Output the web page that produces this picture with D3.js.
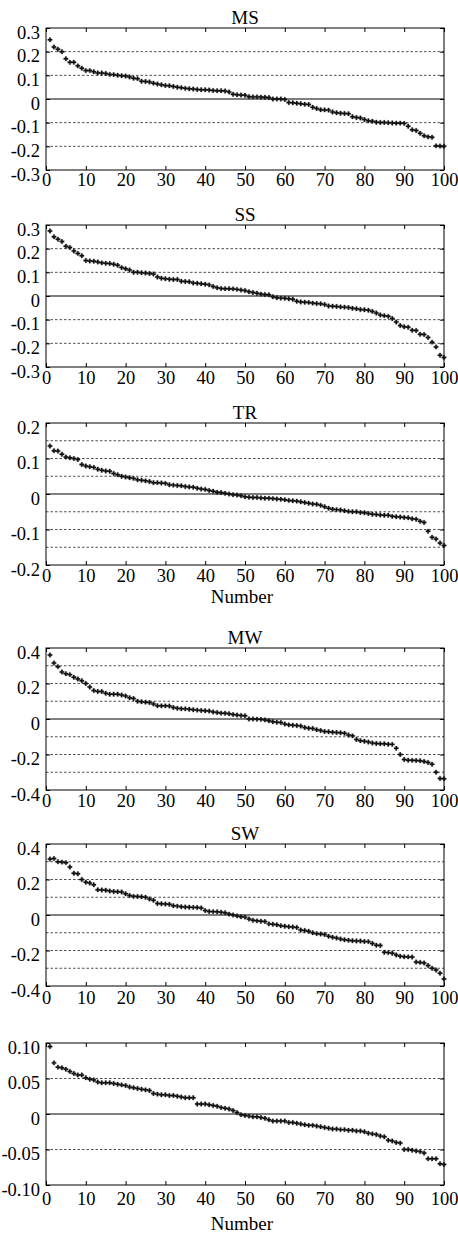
<!DOCTYPE html>
<meta charset="utf-8">
<style>
body { margin: 0; background: #fff; }
text { font-family: "Liberation Serif", "Times New Roman", serif; fill: #000; }
.grid line { stroke: #222; stroke-width: 0.8; stroke-dasharray: 2.5,2; }
.zero { stroke: #000; stroke-width: 1.2; }
.box { fill: none; stroke: #000; stroke-width: 1; }
.dot { fill: #111; stroke: #111; stroke-width: 0.3; }
</style>
<svg width="458" height="1234"></svg>
<script src="https://cdn.jsdelivr.net/npm/d3@7"></script>
<script>

var titles = ["MS", "SS", "TR", "MW", "SW", ""];

var ms = [0.25,0.22,0.21,0.20,0.17,0.155,0.155,0.14,0.13,0.12,0.12,0.115,0.11,0.11,0.108,0.104,0.103,0.1,0.098,0.097,
  0.093,0.088,0.086,0.075,0.074,0.072,0.067,0.063,0.06,0.057,0.056,0.053,0.05,0.048,0.045,0.043,0.042,0.04,0.039,0.039,
  0.038,0.036,0.035,0.035,0.034,0.03,0.02,0.018,0.017,0.016,0.01,0.009,0.009,0.008,0.007,0.006,0,0,0,-0.002,
  -0.015,-0.016,-0.018,-0.02,-0.022,-0.023,-0.035,-0.04,-0.045,-0.046,-0.047,-0.055,-0.058,-0.06,-0.061,-0.062,-0.075,-0.078,-0.08,-0.087,
  -0.092,-0.094,-0.098,-0.099,-0.099,-0.1,-0.101,-0.102,-0.102,-0.103,-0.115,-0.13,-0.133,-0.145,-0.155,-0.16,-0.162,-0.198,-0.199,-0.2];

var ss = [0.275,0.25,0.24,0.23,0.21,0.205,0.19,0.18,0.17,0.15,0.148,0.147,0.144,0.14,0.138,0.137,0.134,0.13,0.12,0.115,
  0.11,0.1,0.1,0.098,0.097,0.095,0.093,0.08,0.075,0.073,0.071,0.07,0.07,0.062,0.061,0.06,0.055,0.054,0.052,0.05,
  0.047,0.04,0.035,0.032,0.031,0.031,0.03,0.028,0.025,0.023,0.018,0.015,0.012,0.008,0.006,0.005,-0.003,-0.007,-0.009,-0.01,
  -0.012,-0.014,-0.022,-0.025,-0.026,-0.027,-0.03,-0.032,-0.033,-0.036,-0.042,-0.043,-0.044,-0.046,-0.047,-0.049,-0.052,-0.054,-0.057,-0.058,
  -0.06,-0.065,-0.072,-0.08,-0.083,-0.086,-0.095,-0.11,-0.125,-0.13,-0.132,-0.145,-0.146,-0.162,-0.163,-0.175,-0.195,-0.215,-0.25,-0.26];

var tr = [0.135,0.122,0.121,0.112,0.104,0.102,0.1,0.097,0.083,0.079,0.077,0.075,0.07,0.067,0.065,0.064,0.058,0.054,0.05,0.048,
  0.046,0.044,0.04,0.039,0.037,0.035,0.032,0.032,0.031,0.03,0.026,0.025,0.024,0.023,0.021,0.02,0.019,0.016,0.014,0.013,
  0.01,0.008,0.005,0.004,0.002,0,-0.002,-0.003,-0.005,-0.008,-0.009,-0.01,-0.01,-0.011,-0.012,-0.012,-0.013,-0.014,-0.015,-0.016,
  -0.018,-0.019,-0.02,-0.022,-0.024,-0.026,-0.028,-0.029,-0.032,-0.036,-0.04,-0.043,-0.044,-0.045,-0.047,-0.049,-0.05,-0.05,-0.052,-0.053,
  -0.055,-0.057,-0.058,-0.059,-0.06,-0.06,-0.063,-0.064,-0.065,-0.066,-0.067,-0.07,-0.071,-0.077,-0.08,-0.105,-0.122,-0.127,-0.138,-0.145];

var mw = [0.36,0.315,0.295,0.265,0.255,0.25,0.235,0.225,0.215,0.2,0.18,0.16,0.155,0.155,0.145,0.14,0.14,0.14,0.135,0.13,
  0.12,0.115,0.1,0.097,0.095,0.093,0.085,0.075,0.074,0.074,0.073,0.065,0.06,0.058,0.057,0.055,0.052,0.05,0.048,0.047,
  0.045,0.04,0.037,0.033,0.032,0.03,0.025,0.022,0.02,0.018,0,0,-0.001,-0.002,-0.005,-0.01,-0.015,-0.018,-0.02,-0.028,
  -0.033,-0.035,-0.037,-0.04,-0.048,-0.052,-0.053,-0.06,-0.065,-0.07,-0.072,-0.075,-0.076,-0.078,-0.08,-0.09,-0.095,-0.115,-0.122,-0.125,
  -0.13,-0.135,-0.138,-0.139,-0.14,-0.142,-0.143,-0.165,-0.2,-0.228,-0.232,-0.233,-0.234,-0.235,-0.24,-0.245,-0.255,-0.3,-0.335,-0.337];

var sw = [0.315,0.318,0.3,0.298,0.295,0.27,0.235,0.232,0.2,0.185,0.18,0.17,0.142,0.141,0.14,0.135,0.132,0.131,0.13,0.12,
  0.11,0.105,0.104,0.103,0.1,0.09,0.083,0.065,0.063,0.062,0.06,0.052,0.05,0.047,0.045,0.044,0.043,0.042,0.04,0.025,
  0.02,0.019,0.018,0.015,0.013,0.005,0,-0.005,-0.01,-0.012,-0.022,-0.03,-0.033,-0.035,-0.037,-0.05,-0.052,-0.055,-0.06,-0.063,
  -0.066,-0.068,-0.07,-0.085,-0.087,-0.092,-0.1,-0.105,-0.107,-0.11,-0.12,-0.125,-0.13,-0.135,-0.14,-0.142,-0.145,-0.146,-0.147,-0.149,
  -0.15,-0.16,-0.17,-0.172,-0.21,-0.212,-0.215,-0.225,-0.232,-0.235,-0.236,-0.237,-0.265,-0.267,-0.27,-0.285,-0.3,-0.31,-0.328,-0.36];

var last = [0.095,0.072,0.066,0.065,0.063,0.06,0.057,0.055,0.055,0.051,0.049,0.048,0.045,0.044,0.044,0.044,0.043,0.042,0.041,0.04,
  0.038,0.037,0.036,0.035,0.034,0.033,0.029,0.028,0.027,0.027,0.026,0.026,0.025,0.024,0.023,0.023,0.023,0.014,0.014,0.014,
  0.013,0.012,0.011,0.009,0.008,0.007,0.005,0.002,-0.001,-0.002,-0.003,-0.004,-0.004,-0.005,-0.006,-0.008,-0.01,-0.01,-0.01,-0.01,
  -0.012,-0.012,-0.013,-0.014,-0.015,-0.016,-0.016,-0.017,-0.018,-0.019,-0.02,-0.021,-0.021,-0.022,-0.022,-0.023,-0.023,-0.024,-0.024,-0.025,
  -0.027,-0.028,-0.029,-0.031,-0.032,-0.037,-0.038,-0.04,-0.041,-0.05,-0.05,-0.051,-0.052,-0.053,-0.055,-0.063,-0.063,-0.063,-0.07,-0.071];

var series = [ms, ss, tr, mw, sw, last];
var yRanges = [0.3, 0.3, 0.2, 0.4, 0.4, 0.1];
var yTicks = [
  [-0.3, -0.2, -0.1, 0, 0.1, 0.2, 0.3],
  [-0.3, -0.2, -0.1, 0, 0.1, 0.2, 0.3],
  [-0.2, -0.1, 0, 0.1, 0.2],
  [-0.4, -0.2, 0, 0.2, 0.4],
  [-0.4, -0.2, 0, 0.2, 0.4],
  [-0.1, -0.05, 0, 0.05, 0.1]
];
var gridVals = [
  [-0.2, -0.1, 0.1, 0.2],
  [-0.2, -0.1, 0.1, 0.2],
  [-0.15, -0.1, -0.05, 0.05, 0.1, 0.15],
  [-0.3, -0.2, -0.1, 0.1, 0.2, 0.3],
  [-0.3, -0.2, -0.1, 0.1, 0.2, 0.3],
  [-0.05, 0.05]
];
var xTicks = d3.range(0, 101, 10);
var showXLabel = [false, false, true, false, false, true];

var tops = [28, 225, 423, 648, 844, 1043],
    xLabPad = [3, 4, 4, 4, 5, 7],
    labelDy = [0, 0, 38, 0, 0, 45],
    left = 46, right = 444, ph = 142;

var svg = d3.select("svg");

var x = d3.scaleLinear().domain([0, 100]).range([left, right]);

series.forEach(function(vals, p) {
  var top = tops[p],
      r = yRanges[p];
  var y = d3.scaleLinear().domain([-r, r]).range([top + ph, top]);
  var fmt = d3.formatLocale({decimal: ".", thousands: ",", grouping: [3], currency: ["", ""], minus: "-"})
      .format(p === 5 ? ".2f" : ".1f");
  var g = svg.append("g");

  // grid
  g.append("g").attr("class", "grid")
    .selectAll("line").data(gridVals[p]).enter().append("line")
      .attr("x1", left).attr("x2", right)
      .attr("y1", function(d) { return y(d); })
      .attr("y2", function(d) { return y(d); });

  g.append("line").attr("class", "zero")
    .attr("x1", left).attr("x2", right)
    .attr("y1", y(0)).attr("y2", y(0));

  // axes, inner ticks on all four sides
  g.append("g")
    .attr("transform", "translate(0," + (top + ph) + ")")
    .call(d3.axisBottom(x).tickValues(xTicks).tickSizeInner(-4).tickSizeOuter(0).tickPadding(xLabPad[p]))
    .call(function(a) {
      a.select(".domain").remove();
      a.selectAll("text").style("font-size", "18.5px");
    });
  g.append("g")
    .attr("transform", "translate(0," + top + ")")
    .call(d3.axisTop(x).tickValues(xTicks).tickSizeInner(-4).tickSizeOuter(0).tickFormat(""))
    .select(".domain").remove();
  g.append("g")
    .attr("transform", "translate(" + left + ",0)")
    .call(d3.axisLeft(y).tickValues(yTicks[p]).tickSizeInner(-4).tickSizeOuter(0).tickPadding(6)
      .tickFormat(function(d) { return Math.abs(d) < 1e-9 ? "0" : fmt(d); }))
    .call(function(a) {
      a.select(".domain").remove();
      a.selectAll("text").style("font-size", "18.5px").attr("dy", "0.55em");
    });
  g.append("g")
    .attr("transform", "translate(" + right + ",0)")
    .call(d3.axisRight(y).tickValues(yTicks[p]).tickSizeInner(-4).tickSizeOuter(0).tickFormat(""))
    .select(".domain").remove();

  g.append("rect").attr("class", "box")
    .attr("x", left).attr("y", top)
    .attr("width", right - left).attr("height", ph);

  g.selectAll(".dot").data(vals).enter().append("path")
    .attr("class", "dot")
    .attr("d", d3.symbol(d3.symbolCross, 11))
    .attr("transform", function(d, i) { return "translate(" + x(i + 1) + "," + y(d) + ")"; });

  if (titles[p]) {
    g.append("text")
      .attr("x", (left + right) / 2).attr("y", top - 4)
      .attr("text-anchor", "middle")
      .style("font-size", "19px")
      .text(titles[p]);
  }
  if (showXLabel[p]) {
    g.append("text")
      .attr("x", (left + right) / 2 - 3).attr("y", top + ph + labelDy[p])
      .attr("text-anchor", "middle")
      .style("font-size", "19px")
      .text("Number");
  }
});

</script>
